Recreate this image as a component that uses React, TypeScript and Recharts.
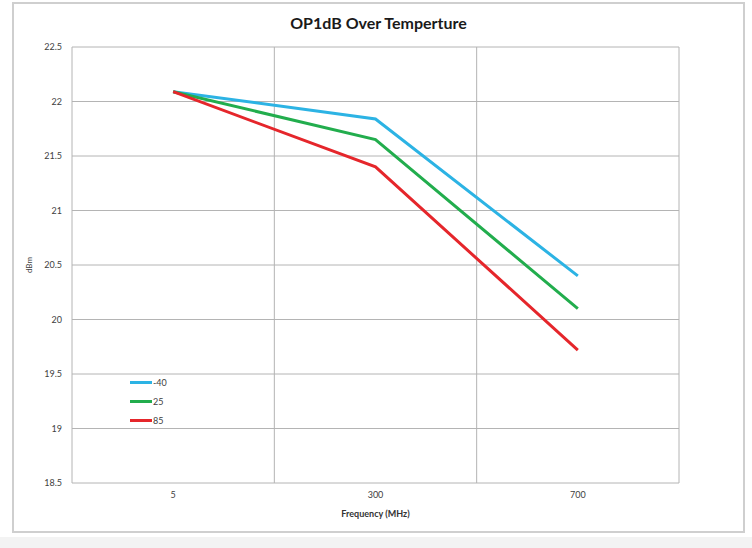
import React from "react";
import {
  LineChart,
  Line,
  XAxis,
  YAxis,
  CartesianGrid,
} from "recharts";

const frequencies = ["5", "300", "700"];
const tempMinus40 = [22.09, 21.84, 20.4];
const temp25 = [22.09, 21.65, 20.1];
const temp85 = [22.09, 21.4, 19.72];
const yTicks = [18.5, 19, 19.5, 20, 20.5, 21, 21.5, 22, 22.5];

const series = [
  { key: "m40", name: "-40", color: "#2cb3e4", values: tempMinus40 },
  { key: "t25", name: "25", color: "#22ad4d", values: temp25 },
  { key: "t85", name: "85", color: "#e5262b", values: temp85 },
];

const data = frequencies.map((f, i) => {
  const row: Record<string, string | number> = { freq: f };
  series.forEach((s) => {
    row[s.key] = s.values[i];
  });
  return row;
});

const FONT = "Lato, 'Liberation Sans', sans-serif";

// legend sits inside the plot, so it is drawn as an overlay instead of eating chart space
const LegendBox = () => (
  <div
    style={{
      position: "absolute",
      left: 116,
      top: 369,
      fontFamily: FONT,
      fontSize: 9,
      color: "#404040",
    }}
  >
    {series.map((s) => (
      <div key={s.key} style={{ display: "flex", alignItems: "center", height: 19 }}>
        <span style={{ display: "inline-block", width: 22, height: 3, background: s.color }} />
        <span style={{ marginLeft: 1 }}>{s.name}</span>
      </div>
    ))}
  </div>
);

const App: React.FC = () => {
  return (
    <div style={{ position: "absolute", left: 0, top: 0, width: 752, height: 548, background: "#ffffff" }}>
      <div style={{ position: "absolute", left: 0, top: 537, width: 752, height: 11, background: "#f3f3f3" }} />
      <div
        style={{
          position: "absolute",
          left: 12,
          top: 2,
          width: 733,
          height: 531,
          border: "2px solid #cfcfcf",
          boxSizing: "border-box",
          background: "#ffffff",
        }}
      >
        <div
          style={{
            position: "absolute",
            top: 9,
            left: 0,
            width: "100%",
            textAlign: "center",
            fontFamily: FONT,
            fontWeight: 700,
            fontSize: 16,
            color: "#1a1a1a",
          }}
        >
          OP1dB Over Temperture
        </div>
        <LineChart
          width={729}
          height={527}
          data={data}
          margin={{ top: 43, right: 64, left: 0, bottom: 8 }}
        >
          <CartesianGrid
            stroke="#b4b4b4"
            strokeWidth={1}
            verticalCoordinatesGenerator={({ offset }: any) =>
              [0, 1, 2, 3].map((i) => offset.left + (offset.width * i) / frequencies.length)
            }
          />
          <XAxis
            dataKey="freq"
            scale="band"
            axisLine={false}
            tickLine={false}
            tickMargin={3}
            height={40}
            tick={{ fontSize: 9, fill: "#404040", fontFamily: FONT }}
            label={{
              value: "Frequency (MHz)",
              position: "insideBottom",
              offset: 6,
              style: { fontSize: 9, fontWeight: 700, fill: "#333333", fontFamily: FONT },
            }}
          />
          <YAxis
            domain={[18.5, 22.5]}
            ticks={yTicks}
            width={58}
            axisLine={false}
            tickLine={false}
            tickMargin={4}
            tick={{ fontSize: 9, fill: "#404040", fontFamily: FONT }}
            label={{
              value: "dBm",
              angle: -90,
              position: "insideLeft",
              offset: 15,
              style: { fontSize: 8, fill: "#404040", fontFamily: FONT, textAnchor: "middle" },
            }}
          />
          {series.map((s) => (
            <Line
              key={s.key}
              dataKey={s.key}
              name={s.name}
              stroke={s.color}
              strokeWidth={3}
              dot={false}
              activeDot={false}
              type="linear"
              isAnimationActive={false}
            />
          ))}
        </LineChart>
        <LegendBox />
      </div>
    </div>
  );
};

export default App;
